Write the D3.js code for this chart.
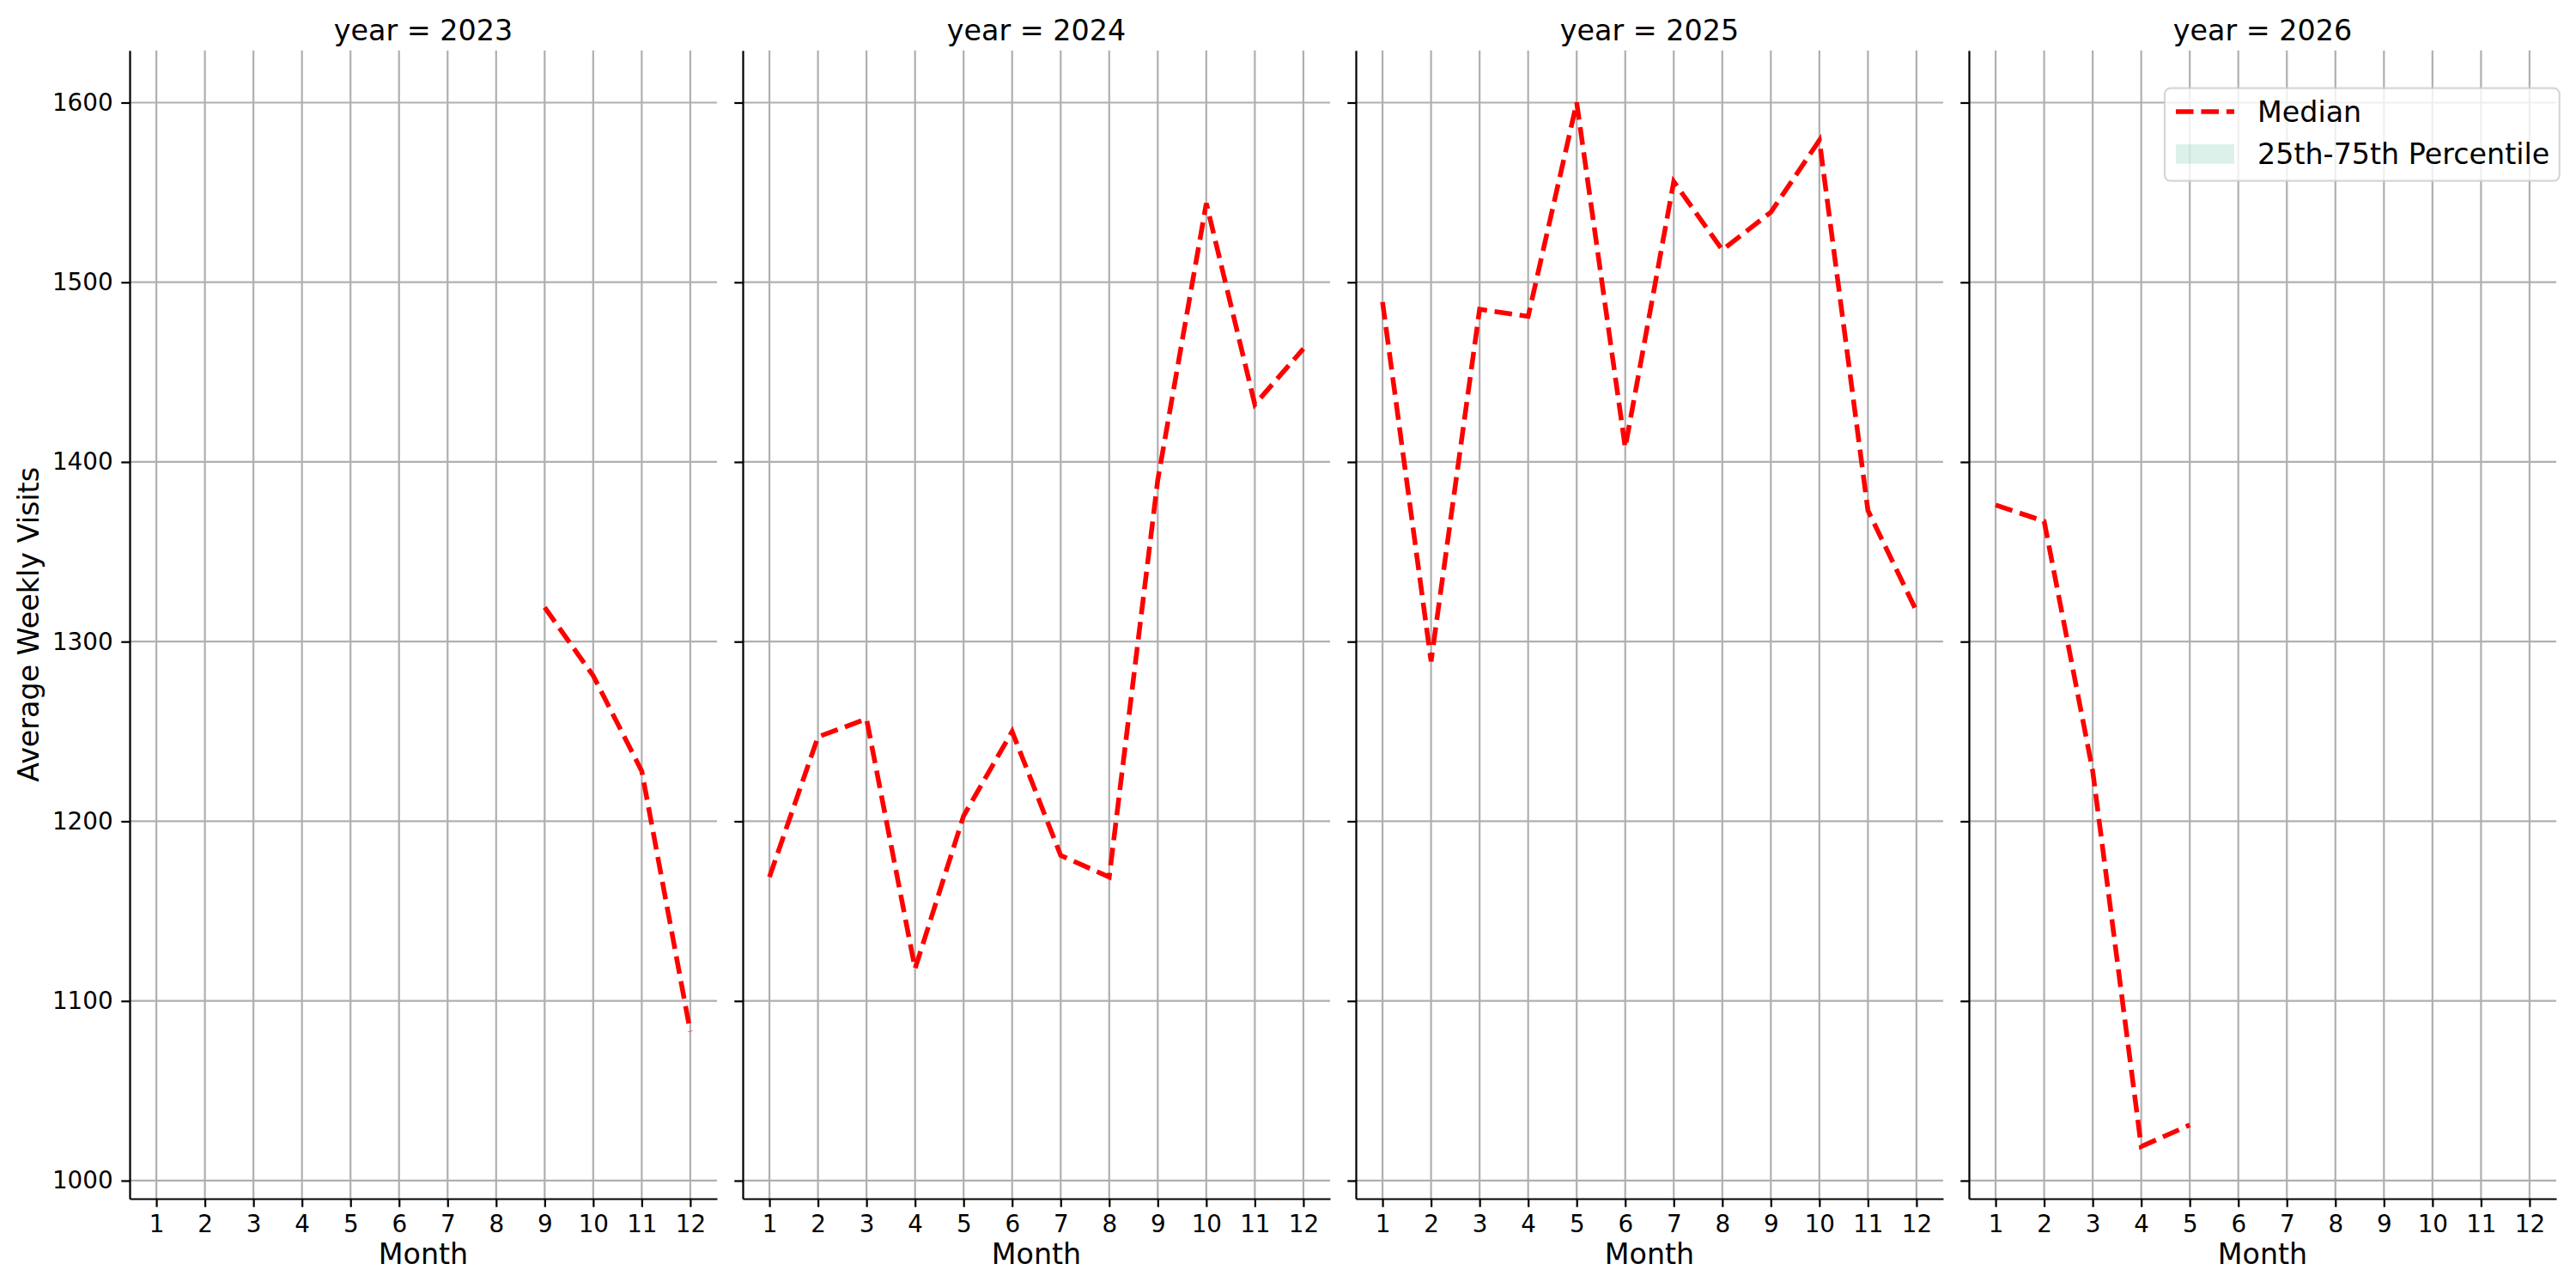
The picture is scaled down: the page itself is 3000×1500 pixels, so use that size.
<!DOCTYPE html>
<html>
<head>
<meta charset="utf-8">
<script src="https://cdn.jsdelivr.net/npm/d3@7"></script>
<style>
  body { margin: 0; background: #fff; }
  text { font-family: "DejaVu Sans", sans-serif; fill: #000; }
</style>
</head>
<body>
<div id="chart"></div>
<script>
// Data (null = no value for that month)
var years = [2023, 2024, 2025, 2026];
var months = [1, 2, 3, 4, 5, 6, 7, 8, 9, 10, 11, 12];
var yTicks = [1000, 1100, 1200, 1300, 1400, 1500, 1600];

var median2023 = [null, null, null, null, null, null, null, null, 1319, 1281, 1228, 1083];
var median2024 = [1169, 1247, 1257, 1118, 1203, 1250, 1181, 1169, 1390, 1544, 1432, 1463];
var median2025 = [1489, 1289, 1485, 1481, 1600, 1408, 1556, 1518, 1539, 1579, 1373, 1317];
var median2026 = [1376, 1367, 1228, 1019, 1031, null, null, null, null, null, null, null];

var medians = [median2023, median2024, median2025, median2026];

var svgWidth = 3000;
var svgHeight = 1500;

// panel layout (pixels, matplotlib at 200 dpi)
var margin = { top: 58.7, left: 151 };
var panelWidth = 684;
var panelStep = 714;
var height = 1337.3;

var pt = 200 / 72;        // one point in px
var lineW = 0.8 * pt;     // spines, ticks, grid
var tickLen = 3.5 * pt;

var svg = d3.select("#chart")
  .append("svg")
  .attr("width", svgWidth)
  .attr("height", svgHeight);

// shared scales, with matplotlib's 5% margins
var allValues = d3.merge(medians).filter(function(v) { return v != null; });
var yMin = d3.min(allValues), yMax = d3.max(allValues);
var yPad = (yMax - yMin) * 0.05;

var yScale = d3.scaleLinear()
  .domain([yMin - yPad, yMax + yPad])
  .range([height, 0]);

var xScale = d3.scaleLinear()
  .domain([1 - 0.55, 12 + 0.55])
  .range([0, panelWidth]);

var line = d3.line()
  .defined(function(d) { return d.value != null; })
  .x(function(d) { return xScale(d.month); })
  .y(function(d) { return yScale(d.value); });

years.forEach(function(year, i) {
  var g = svg.append("g")
    .attr("transform", `translate(${margin.left + i * panelStep}, ${margin.top})`);

  // grid
  g.append("g").selectAll("line")
    .data(months)
    .enter().append("line")
    .attr("x1", function(d) { return xScale(d); })
    .attr("x2", function(d) { return xScale(d); })
    .attr("y1", 0)
    .attr("y2", height)
    .attr("stroke", "#b0b0b0")
    .attr("stroke-width", lineW);

  g.append("g").selectAll("line")
    .data(yTicks)
    .enter().append("line")
    .attr("x1", 0)
    .attr("x2", panelWidth)
    .attr("y1", function(d) { return yScale(d); })
    .attr("y2", function(d) { return yScale(d); })
    .attr("stroke", "#b0b0b0")
    .attr("stroke-width", lineW);

  // median line
  var series = months.map(function(m, j) {
    return { month: m, value: medians[i][j] };
  });

  g.append("path")
    .datum(series)
    .attr("d", line)
    .attr("fill", "none")
    .attr("stroke", "#ff0000")
    .attr("stroke-width", 2 * pt)
    .attr("stroke-dasharray", `${3.7 * 2 * pt},${1.6 * 2 * pt}`);

  // axes
  var bottomAxis = d3.axisBottom(xScale)
    .tickValues(months)
    .tickFormat(d3.format("d"))
    .tickSizeInner(tickLen)
    .tickSizeOuter(0)
    .tickPadding(tickLen);

  var leftAxis = d3.axisLeft(yScale)
    .tickValues(yTicks)
    .tickFormat(i === 0 ? d3.format("d") : "")
    .tickSizeInner(tickLen)
    .tickSizeOuter(0)
    .tickPadding(tickLen);

  var xAxisG = g.append("g")
    .attr("transform", `translate(0, ${height})`)
    .call(bottomAxis);

  var yAxisG = g.append("g")
    .call(leftAxis);

  [xAxisG, yAxisG].forEach(function(a) {
    a.select(".domain").attr("stroke", "#000").attr("stroke-width", lineW);
    a.selectAll(".tick line").attr("stroke", "#000").attr("stroke-width", lineW);
    a.selectAll(".tick text")
      .style("font-size", (10 * pt) + "px")
      .style("font-family", "DejaVu Sans, sans-serif")
      .attr("fill", "#000");
  });

  // titles and labels
  g.append("text")
    .attr("x", panelWidth / 2)
    .attr("y", 47 - margin.top)
    .attr("text-anchor", "middle")
    .style("font-size", (12 * pt) + "px")
    .text("year = " + year);

  g.append("text")
    .attr("x", panelWidth / 2)
    .attr("y", 1472 - margin.top)
    .attr("text-anchor", "middle")
    .style("font-size", (12 * pt) + "px")
    .text("Month");
});

svg.append("text")
  .attr("transform", `translate(45, ${margin.top + height / 2}) rotate(-90)`)
  .attr("text-anchor", "middle")
  .style("font-size", (12 * pt) + "px")
  .text("Average Weekly Visits");

// Legend (upper right of last panel)
var legend = svg.append("g").attr("transform", "translate(2521, 102.7)");

legend.append("rect")
  .attr("width", 459.7)
  .attr("height", 108)
  .attr("rx", 6.7)
  .attr("fill", "#fff")
  .attr("fill-opacity", 0.8)
  .attr("stroke", "#cccccc")
  .attr("stroke-opacity", 0.8)
  .attr("stroke-width", 2.2);

legend.append("line")
  .attr("x1", 13)
  .attr("x2", 81)
  .attr("y1", 27.3)
  .attr("y2", 27.3)
  .attr("stroke", "#ff0000")
  .attr("stroke-width", 2 * pt)
  .attr("stroke-dasharray", `${3.7 * 2 * pt},${1.6 * 2 * pt}`);

legend.append("rect")
  .attr("x", 13)
  .attr("y", 65.3)
  .attr("width", 68)
  .attr("height", 22.7)
  .attr("fill", "#1b9e77")
  .attr("fill-opacity", 0.15);

legend.append("text")
  .attr("x", 108)
  .attr("y", 39.5)
  .style("font-size", (12 * pt) + "px")
  .text("Median");

legend.append("text")
  .attr("x", 108)
  .attr("y", 88)
  .style("font-size", (12 * pt) + "px")
  .text("25th-75th Percentile");
</script>
</body>
</html>
